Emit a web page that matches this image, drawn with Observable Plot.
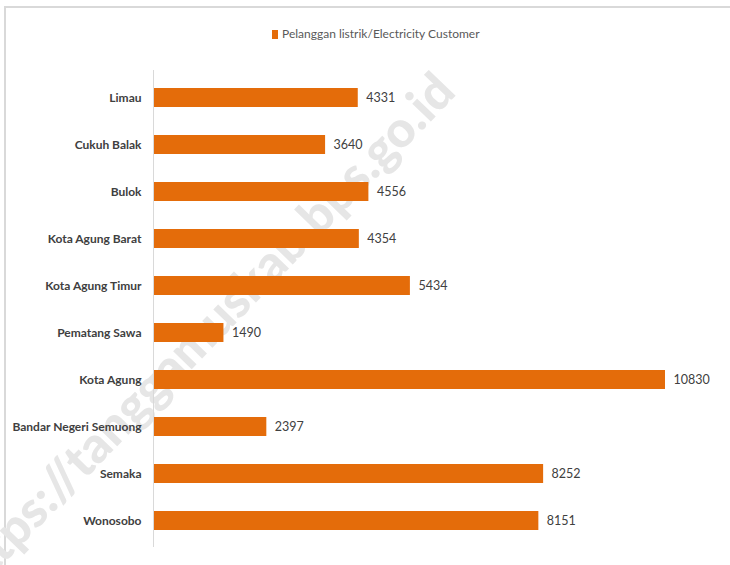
<!DOCTYPE html>
<html>
<head>
<meta charset="utf-8">
<script src="https://cdn.jsdelivr.net/npm/d3@7"></script>
<script src="https://cdn.jsdelivr.net/npm/@observablehq/plot@0.6"></script>
<style>
  html, body { margin: 0; padding: 0; background: #fff; }
  #wrap { position: relative; width: 730px; height: 565px; overflow: hidden; background: #fff;
    font-family: Lato, "Open Sans", sans-serif; }
  #frame { position: absolute; left: 4px; top: 6px; width: 800px; height: 700px;
    border-left: 2px solid #d9d9d9; border-top: 2px solid #d9d9d9; }
  #wm { position: absolute; left: 0; top: 0; font: 900 50px Lato, "Liberation Sans", sans-serif;
    color: #e6e6e6; white-space: nowrap; transform-origin: 100% 100%; line-height: 1; }
  #legend { position: absolute; top: 26px; left: 0; width: 100%; }
  #legend .sw { position: absolute; left: 272px; top: 4px; width: 6px; height: 9px; background: #E46C0A; }
  #legend .lb { position: absolute; left: 282px; top: 0; font-size: 12px; color: #595959; white-space: nowrap; }
  #chart { position: absolute; left: 0; top: 0; }
</style>
</head>
<body>
<div id="wrap">
  <div id="frame"></div>
  <div id="wm">https://tanggamuskab.bps.go.id</div>
  <div id="legend"><span class="sw"></span><span class="lb">Pelanggan listrik/Electricity Customer</span></div>
  <div id="chart"></div>
</div>
<script>
const categories = ["Limau", "Cukuh Balak", "Bulok", "Kota Agung Barat", "Kota Agung Timur",
  "Pematang Sawa", "Kota Agung", "Bandar Negeri Semuong", "Semaka", "Wonosobo"];
const customers = [4331, 3640, 4556, 4354, 5434, 1490, 10830, 2397, 8252, 8151];
const seriesName = "Pelanggan listrik/Electricity Customer";

const data = categories.map((c, i) => ({ name: c, value: customers[i] }));

// watermark placement (behind chart)
const wm = document.getElementById("wm");
const w = wm.offsetWidth, h = wm.offsetHeight;
wm.style.left = (462 - w) + "px";
wm.style.top = (98 - h) + "px";
wm.style.transform = "rotate(-46deg)";

const fontFam = 'Lato, "Open Sans", sans-serif';

const chart = Plot.plot({
  width: 730,
  height: 565,
  marginLeft: 153,
  marginRight: 65,
  marginTop: 70,
  marginBottom: 18,
  style: { background: "transparent", fontFamily: fontFam },
  x: { domain: [0, 10830], axis: null },
  y: { domain: categories, paddingInner: 0.6, paddingOuter: 0.3, axis: null },
  marks: [
    Plot.barX(data, { x: "value", y: "name", fill: "#E46C0A" }),
    Plot.text(data, { x: "value", y: "name", text: d => String(d.value), textAnchor: "start", dx: 8,
      fontSize: 12.5, fill: "#404040" }),
    Plot.ruleX([0], { stroke: "#d9d9d9" }),
    Plot.axisY({ tickSize: 0, tickPadding: 12, fontSize: 12, fontWeight: "bold", fill: "#404040", label: null })
  ]
});
document.getElementById("chart").appendChild(chart);
</script>
</body>
</html>
